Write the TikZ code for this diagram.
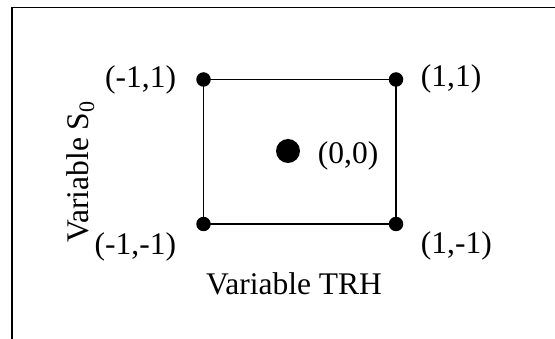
\documentclass[tikz,border=0pt]{standalone}
\usepackage{fontspec}
\setmainfont{Liberation Serif}
\usetikzlibrary{positioning}

\begin{document}
\begin{tikzpicture}[x=1pt,y=-1pt,line width=1.9pt,
  dot/.style={circle,fill=black,inner sep=0pt,minimum size=14.5pt},
  lab/.style={inner sep=0pt,font=\fontsize{31.5}{36}\selectfont}]
\useasboundingbox (0,0) rectangle (555,339);
\draw (555,7.5) -- (12,7.5) -- (12,339);
\node[dot] (tl) at (203.5,79.5){};\node[dot] (tr) at (396,79.5){};
\node[dot] (bl) at (203.5,224){};\node[dot] (br) at (396,224){};
\node[dot,minimum size=24pt] (c) at (288,151){};
\draw (tl.center) -- (tr.center) -- (br.center) -- (bl.center) -- cycle;
\node[lab,anchor=base east] (ltl) at (177,88){(-1,1)};
\node[lab,anchor=base west] (ltr) at (420,87){(1,1)};
\node[lab,anchor=base east] (lbl) at (177,255){(-1,-1)};
\node[lab,anchor=base west] (lbr) at (420,254){(1,-1)};
\node[lab,anchor=base west] (lc) at (317,164){(0,0)};
\node[lab,anchor=base] (xlab) at (294,295){Variable TRH};
\node[lab,anchor=base,rotate=90] (ylab) at (88,172){Variable S\textsubscript{0}};
\end{tikzpicture}
\end{document}
